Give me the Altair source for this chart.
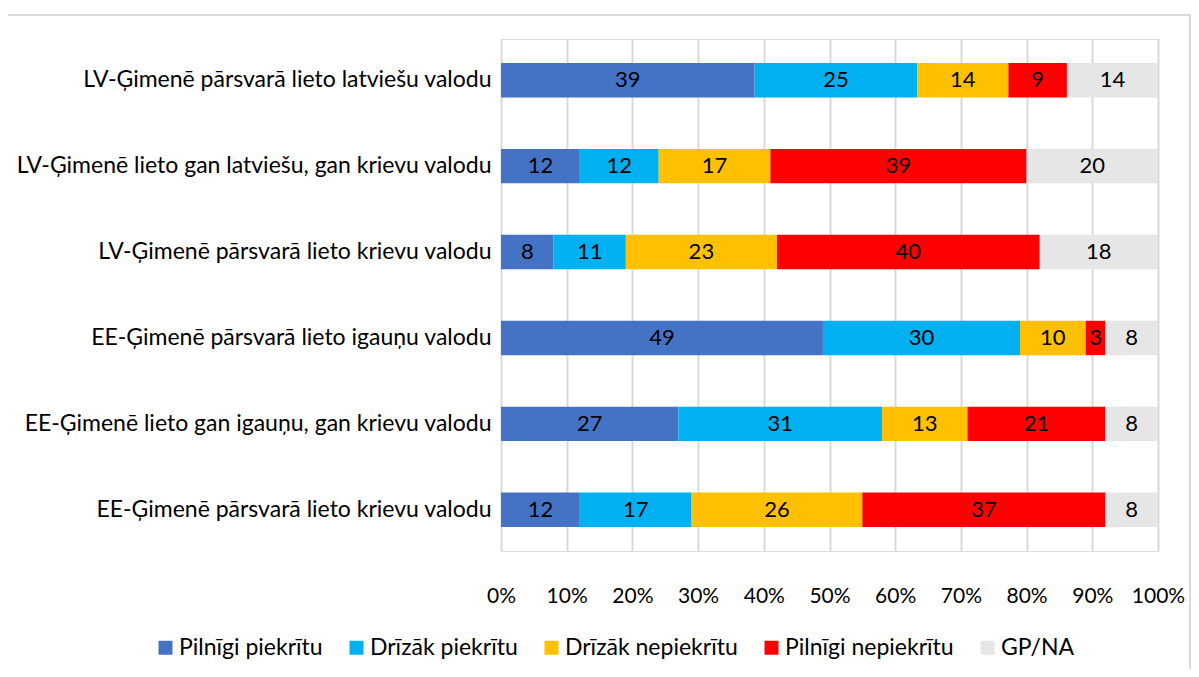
import altair as alt
import pandas as pd

rows = [
    "LV-Ģimenē pārsvarā lieto latviešu valodu",
    "LV-Ģimenē lieto gan latviešu, gan krievu valodu",
    "LV-Ģimenē pārsvarā lieto krievu valodu",
    "EE-Ģimenē pārsvarā lieto igauņu valodu",
    "EE-Ģimenē lieto gan igauņu, gan krievu valodu",
    "EE-Ģimenē pārsvarā lieto krievu valodu",
]
series = ["Pilnīgi piekrītu", "Drīzāk piekrītu", "Drīzāk nepiekrītu", "Pilnīgi nepiekrītu", "GP/NA"]
colors = ["#4472C4", "#00B0F0", "#FFC000", "#FF0000", "#E6E6E6"]

pilnigi_piekritu = [39, 12, 8, 49, 27, 12]
drizak_piekritu = [25, 12, 11, 30, 31, 17]
drizak_nepiekritu = [14, 17, 23, 10, 13, 26]
pilnigi_nepiekritu = [9, 39, 40, 3, 21, 37]
gp_na = [14, 20, 18, 8, 8, 8]

values = [pilnigi_piekritu, drizak_piekritu, drizak_nepiekritu, pilnigi_nepiekritu, gp_na]
recs = []
for si, s in enumerate(series):
    for ri, r in enumerate(rows):
        recs.append({"Row": r, "Series": s, "order": si, "Value": values[si][ri]})
df = pd.DataFrame(recs)

FONT = "Lato, Roboto, sans-serif"

base = alt.Chart(df).transform_stack(
    stack="Value", groupby=["Row"], as_=["v0", "v1"], offset="normalize",
    sort=[alt.SortField("order", order="ascending")]
).transform_calculate(mid="(datum.v0 + datum.v1) / 2")

yenc = alt.Y("Row:N", sort=rows, title=None,
             scale=alt.Scale(paddingInner=0.6, paddingOuter=0.28),
             axis=alt.Axis(labelFont=FONT, labelFontSize=23, labelFontWeight="normal",
                           labelColor="#000000",
                           labelPadding=10, ticks=False, domain=False, labelLimit=600))

bars = base.mark_bar().encode(
    x=alt.X("v0:Q", title=None, scale=alt.Scale(domain=[0, 1], nice=False),
            axis=alt.Axis(format=".0%", values=[i / 10 for i in range(11)],
                          labelFont=FONT, labelFontSize=21, labelColor="#000000",
                          labelPadding=34, labelFlush=False, ticks=False, domain=False,
                          grid=True, gridColor="#D9D9D9", gridWidth=2)),
    x2="v1:Q",
    y=yenc,
    color=alt.Color("Series:N", sort=series,
                    scale=alt.Scale(domain=series, range=colors),
                    legend=alt.Legend(title=None, orient="none", direction="horizontal",
                                      columns=5, legendX=-347, legendY=597,
                                      symbolType="square", symbolSize=196,
                                      symbolStrokeWidth=0, labelFont=FONT,
                                      labelFontSize=23, labelColor="#000000",
                                      labelLimit=400,
                                      labelOffset=2, columnPadding=22)),
    order=alt.Order("order:Q"),
)

texts = base.mark_text(font=FONT, fontSize=22, color="#000000").encode(
    x=alt.X("mid:Q"),
    y=alt.Y("Row:N", sort=rows),
    text=alt.Text("Value:Q"),
)

frame = alt.Chart(pd.DataFrame({"a": [0]})).mark_rect(
    fill=None, stroke="#D9D9D9", strokeWidth=2
).encode(
    x=alt.value(-494), x2=alt.value(689), y=alt.value(-24), y2=alt.value(700)
)

chart = alt.layer(frame, bars, texts).properties(
    width=657, height=512,
    autosize=alt.AutoSizeParams(type="none"),
    padding={"left": 493, "top": 31, "right": 33, "bottom": 118},
).configure_view(stroke=None).configure(background="#FFFFFF")

chart.save("out.html", embed_options={"renderer": "svg", "actions": False})
